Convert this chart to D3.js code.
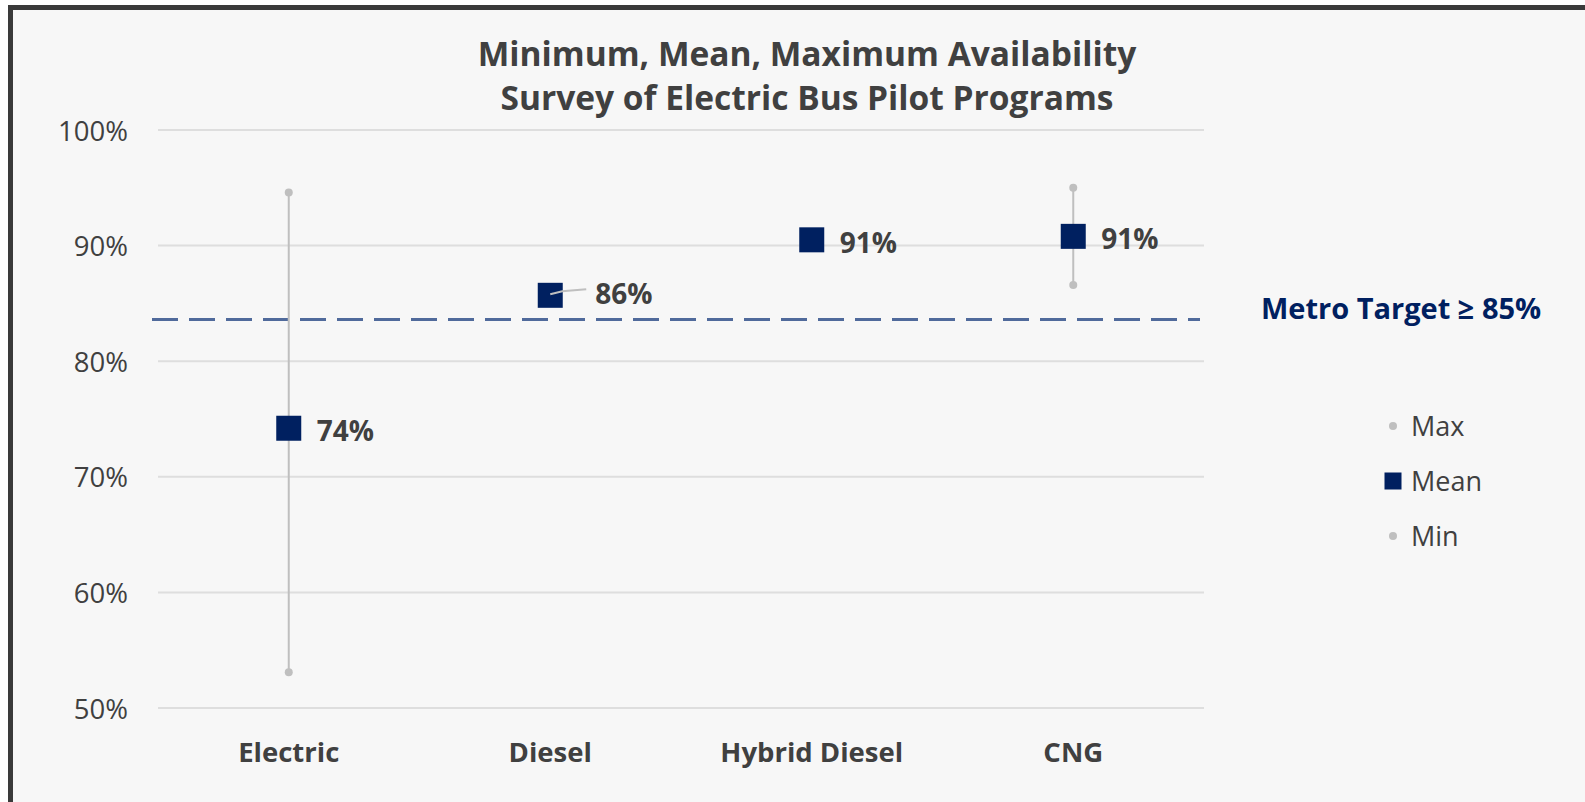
<!DOCTYPE html>
<html>
<head>
<meta charset="utf-8">
<script src="https://cdn.jsdelivr.net/npm/d3@7"></script>
<style>
  html, body { margin: 0; padding: 0; background: #ffffff; }
  svg { display: block; font-family: "Open Sans", "Noto Sans", sans-serif; }
</style>
</head>
<body>
<div id="chart"></div>
<script>
// chart values
var categories = ["Electric", "Diesel", "Hybrid Diesel", "CNG"];
var maxValues  = [0.946, null, null, 0.950];
var meanValues = [0.742, 0.857, 0.905, 0.908];
var minValues  = [0.531, null, null, 0.866];
var meanLabels = ["74%", "86%", "91%", "91%"];
var yTicks = [0.5, 0.6, 0.7, 0.8, 0.9, 1.0];
var targetValue = 0.836;
var targetLabel = "Metro Target \u2265 85%";
var legendItems = ["Max", "Mean", "Min"];
var titleLines = ["Minimum, Mean, Maximum Availability", "Survey of Electric Bus Pilot Programs"];

var width = 1585, height = 802;
var navy = "#002060", grey = "#bfbfbf", text = "#404040";

var svg = d3.select("#chart").append("svg")
  .attr("width", width)
  .attr("height", height);

// background + frame
svg.append("rect")
  .attr("x", 10.5).attr("y", 7.5)
  .attr("width", width + 20).attr("height", height + 20)
  .attr("fill", "#f7f7f7")
  .attr("stroke", "#3a3a3a")
  .attr("stroke-width", 5);

var x = d3.scaleBand().domain(categories).range([158, 1204]);
var y = d3.scaleLinear().domain([0.5, 1.0]).range([708, 130]);

// gridlines
svg.append("g").selectAll("line")
  .data(yTicks)
  .enter().append("line")
  .attr("x1", 158).attr("x2", 1204)
  .attr("y1", function (d) { return y(d); })
  .attr("y2", function (d) { return y(d); })
  .attr("stroke", "#dedede")
  .attr("stroke-width", 2);

// y axis labels
var yAxis = d3.axisLeft(y).tickValues(yTicks).tickFormat(d3.format(".0%")).tickSize(0).tickPadding(0);
var yg = svg.append("g").attr("transform", "translate(128,0)").call(yAxis);
yg.select(".domain").remove();
yg.selectAll("text")
  .attr("dy", null)
  .attr("y", 10)
  .attr("fill", text)
  .style("font-size", "27.5px")
  .style("font-family", "'Open Sans', sans-serif");

// x axis labels
var xAxis = d3.axisBottom(x).tickSize(0).tickPadding(0);
var xg = svg.append("g").attr("transform", "translate(0,762)").call(xAxis);
xg.select(".domain").remove();
xg.selectAll("text")
  .attr("dy", null)
  .attr("y", 0)
  .attr("fill", text)
  .style("font-size", "27.5px")
  .style("font-weight", "bold")
  .style("font-family", "'Open Sans', sans-serif");

// title
svg.append("text")
  .attr("text-anchor", "middle")
  .attr("fill", text)
  .style("font-size", "33.5px")
  .style("font-weight", "bold")
  .selectAll("tspan")
  .data(titleLines)
  .enter().append("tspan")
  .attr("x", 807)
  .attr("y", function (d, i) { return 66 + i * 44; })
  .text(function (d) { return d; });

// target line
svg.append("line")
  .attr("x1", 152).attr("x2", 1200)
  .attr("y1", y(targetValue)).attr("y2", y(targetValue))
  .attr("stroke", "#506a9b")
  .attr("stroke-width", 3)
  .attr("stroke-dasharray", "26,11");

svg.append("text")
  .attr("x", 1261).attr("y", y(targetValue) - 1)
  .attr("fill", navy)
  .style("font-size", "29px")
  .style("font-weight", "bold")
  .text(targetLabel);

// points
var rows = categories.map(function (c, i) {
  return { cat: c, max: maxValues[i], mean: meanValues[i], min: minValues[i], label: meanLabels[i] };
});

var g = svg.append("g").selectAll("g")
  .data(rows)
  .enter().append("g")
  .attr("transform", function (d) { return "translate(" + (x(d.cat) + x.bandwidth() / 2) + ",0)"; });

var ranged = g.filter(function (d) { return d.max != null && d.min != null; });

ranged.append("line")
  .attr("x1", 0).attr("x2", 0)
  .attr("y1", function (d) { return y(d.max); })
  .attr("y2", function (d) { return y(d.min); })
  .attr("stroke", grey)
  .attr("stroke-width", 2);

ranged.append("circle")
  .attr("cy", function (d) { return y(d.max); })
  .attr("r", 4).attr("fill", grey);

ranged.append("circle")
  .attr("cy", function (d) { return y(d.min); })
  .attr("r", 4).attr("fill", grey);

g.append("rect")
  .attr("x", -12.5)
  .attr("y", function (d) { return y(d.mean) - 12.5; })
  .attr("width", 25).attr("height", 25)
  .attr("fill", navy);

// leader line for the moved Diesel label
g.filter(function (d) { return d.cat === "Diesel"; })
  .append("polyline")
  .attr("points", function (d) {
    var yy = y(d.mean);
    return "0," + (yy - 1) + " 12," + (yy - 4) + " 36," + (yy - 6);
  })
  .attr("fill", "none")
  .attr("stroke", grey)
  .attr("stroke-width", 2);

g.append("text")
  .attr("x", function (d) { return d.cat === "Diesel" ? 45 : 28; })
  .attr("y", function (d) { return y(d.mean) + (d.cat === "Diesel" ? 9 : 13); })
  .attr("fill", text)
  .style("font-size", "28px")
  .style("font-weight", "bold")
  .text(function (d) { return d.label; });

// legend
var leg = svg.append("g").selectAll("g")
  .data(legendItems)
  .enter().append("g")
  .attr("transform", function (d, i) { return "translate(1393," + (426 + i * 55) + ")"; });

leg.each(function (d) {
  var s = d3.select(this);
  if (d === "Mean") {
    s.append("rect").attr("x", -8.5).attr("y", -8.5).attr("width", 17).attr("height", 17).attr("fill", navy);
  } else {
    s.append("circle").attr("r", 4).attr("fill", grey);
  }
});

leg.append("text")
  .attr("x", 18).attr("y", 10)
  .attr("fill", text)
  .style("font-size", "27px")
  .text(function (d) { return d; });
</script>
</body>
</html>
